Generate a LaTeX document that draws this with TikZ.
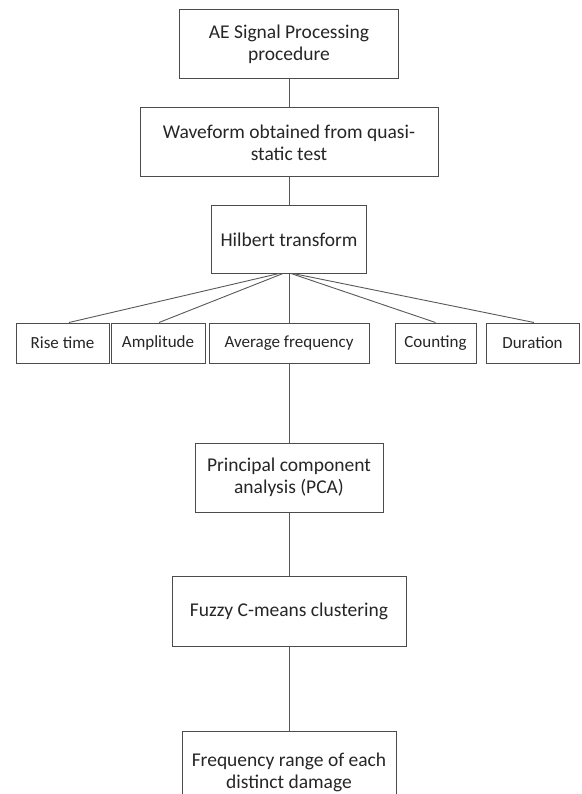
\documentclass[tikz,border=0pt]{standalone}
\usepackage{fontspec}
\setmainfont{Carlito}
\begin{document}
\begin{tikzpicture}[x=1pt,y=-1pt,
  box/.style={draw=black!70, line width=1pt, rectangle, align=center, inner sep=2pt,
    font=\fontsize{19.5}{22}\selectfont, text=black!85},
  small/.style={box, font=\fontsize{17}{21}\selectfont, minimum height=40pt},
  conn/.style={draw=black!65, line width=0.9pt}]
\useasboundingbox (0,0) rectangle (581,794);
\clip (0,0) rectangle (581,794);
\fill[white] (0,0) rectangle (581,794);
\node[box, minimum width=219pt, minimum height=69pt] (b1) at (289,44.5) {AE Signal Processing\\procedure};
\node[box, minimum width=298pt, minimum height=69pt] (b2) at (289,142.5) {Waveform obtained from quasi-\\static test};
\node[box, minimum width=155pt, minimum height=67pt] (b3) at (289,239.5) {Hilbert transform};
\node[small, minimum width=93pt] (rise) at (62.5,343) {Rise time};
\node[small, minimum width=94pt] (amp) at (158,343) {Amplitude};
\node[small, minimum width=160pt] (avg) at (289,343) {Average frequency};
\node[small, minimum width=81pt] (cnt) at (435.5,343) {Counting};
\node[small, minimum width=93pt] (dur) at (532.5,343) {Duration};
\node[box, minimum width=188pt, minimum height=69pt] (pca) at (289,477.5) {Principal component\\analysis (PCA)};
\node[box, minimum width=234pt, minimum height=70pt] (fuz) at (289,611) {Fuzzy C-means clustering};
\node[box, minimum width=214pt, minimum height=80pt, anchor=north] (frq) at (289,731) {};
\node[font=\fontsize{19.5}{22}\selectfont, text=black!85, align=center] (frqt) at (289,772) {Frequency range of each\\distinct damage};
\draw[conn] (b1.south) -- (b2.north);
\draw[conn] (b2.south) -- (b3.north);
\draw[conn] ([xshift=-10pt]b3.south) -- ([xshift=6.5pt]rise.north);
\draw[conn] ([xshift=-6pt]b3.south) -- ([xshift=1pt]amp.north);
\draw[conn] (b3.south) -- (avg.north);
\draw[conn] ([xshift=2pt]b3.south) -- (cnt.north);
\draw[conn] ([xshift=4pt]b3.south) -- ([xshift=1.5pt]dur.north);
\draw[conn] (avg.south) -- (pca.north);
\draw[conn] (pca.south) -- (fuz.north);
\draw[conn] (fuz.south) -- (frq.north);
\end{tikzpicture}
\end{document}
